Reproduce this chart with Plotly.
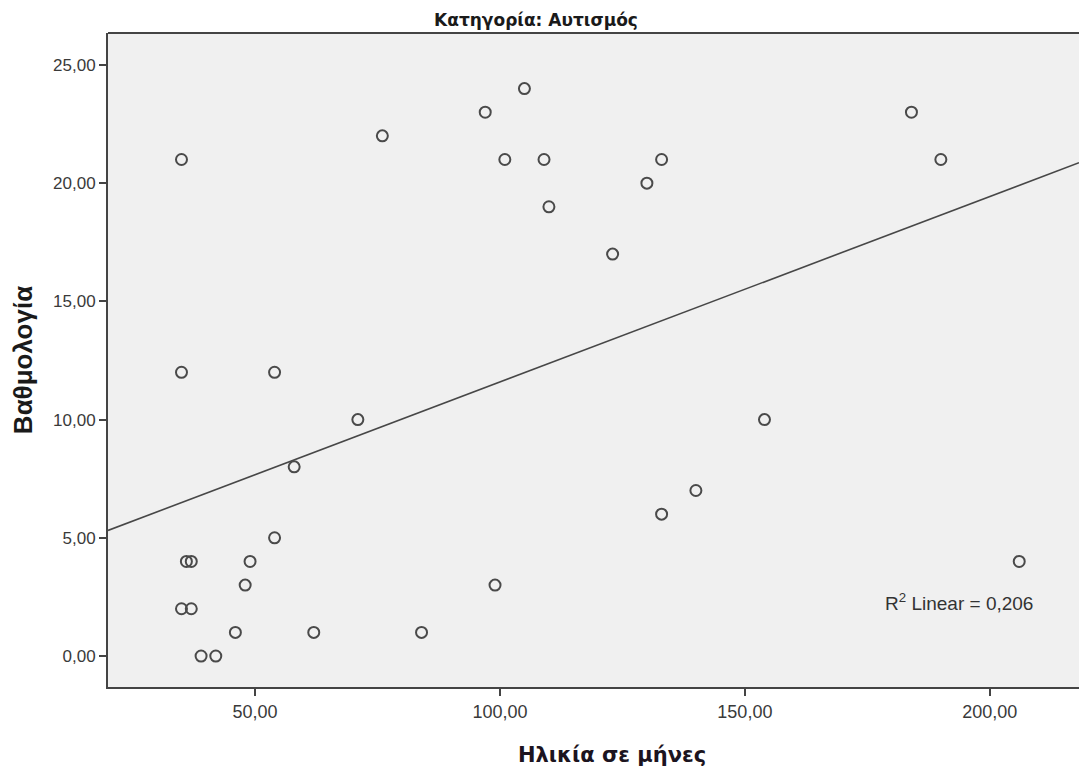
import numpy as np
import plotly.graph_objects as go

# Data
age_months = [35, 35, 36, 37, 35, 37, 39, 42, 46, 48, 49, 54, 54, 58, 62, 71, 76, 84,
              97, 99, 101, 105, 109, 110, 123, 130, 133, 133, 140, 154, 184, 190, 206]
score = [21, 12, 4, 4, 2, 2, 0, 0, 1, 3, 4, 5, 12, 8, 1, 10, 22, 1,
         23, 3, 21, 24, 21, 19, 17, 20, 21, 6, 7, 10, 23, 21, 4]
r2_linear = 0.206

title_text = "Κατηγορία: Αυτισμός"
x_title = "Ηλικία σε μήνες"
y_title = "Βαθμολογία"
x_ticks = [50, 100, 150, 200]
y_ticks = [0, 5, 10, 15, 20, 25]

x_range = [20, 218.2]
y_range = [-1.31, 26.35]

slope, intercept = np.polyfit(age_months, score, 1)
line_x = np.array(x_range)
line_y = slope * line_x + intercept

fig = go.Figure()
fig.add_trace(go.Scatter(
    x=line_x, y=line_y, mode="lines",
    line=dict(color="#474747", width=1.6),
    hoverinfo="skip", showlegend=False,
))
fig.add_trace(go.Scatter(
    x=age_months, y=score, mode="markers",
    marker=dict(symbol="circle-open", size=11, color="#4a4a4a",
                line=dict(width=2, color="#4a4a4a")),
    showlegend=False,
))

fig.update_layout(
    width=1079, height=772,
    margin=dict(l=108, r=0, t=33, b=85),
    paper_bgcolor="white",
    plot_bgcolor="#F0F0F0",
    separators=",.",
    showlegend=False,
    xaxis=dict(
        range=x_range, tickvals=x_ticks, tickformat=".2f",
        showgrid=False, zeroline=False,
        showline=True, linecolor="#444444", linewidth=2,
        ticks="outside", ticklen=7, tickwidth=2, tickcolor="#444444",
        tickfont=dict(family="Liberation Sans, Arial, sans-serif", size=18, color="#3a3a3a"),
    ),
    yaxis=dict(
        range=y_range, tickvals=y_ticks, tickformat=".2f",
        showgrid=False, zeroline=False,
        showline=True, linecolor="#444444", linewidth=2,
        ticks="outside", ticklen=7, tickwidth=2, tickcolor="#444444",
        tickfont=dict(family="Liberation Sans, Arial, sans-serif", size=17, color="#3a3a3a"),
        title=dict(text="<b>" + y_title + "</b>",
                   font=dict(family="Liberation Sans, Arial, sans-serif",
                             size=26, color="#1a1a1a"),
                   standoff=13),
    ),
    title=dict(text="<b>" + title_text + "</b>",
               x=536 / 1079, xanchor="center", xref="container",
               y=1 - 20 / 772, yanchor="middle", yref="container",
               font=dict(family="DejaVu Sans, Liberation Sans, sans-serif",
                         size=17, color="#1a1a1a")),
    shapes=[dict(type="line", xref="paper", yref="paper", x0=0, x1=1, y0=1, y1=1,
                 line=dict(color="#444444", width=2))],
    annotations=[
        dict(
            x=(959 - 108) / 971, y=(687 - 602) / 654, xref="paper", yref="paper",
            text="R<sup>2</sup> Linear = " + f"{r2_linear:.3f}".replace(".", ","),
            showarrow=False, xanchor="center", yanchor="middle",
            font=dict(family="Liberation Sans, Arial, sans-serif", size=19, color="#333333"),
        ),
        dict(
            x=(612 - 108) / 971, y=-(755 - 687) / 654, xref="paper", yref="paper",
            text="<b>" + x_title + "</b>",
            showarrow=False, xanchor="center", yanchor="middle",
            font=dict(family="DejaVu Sans, sans-serif", size=21, color="#1c1420"),
        ),
    ],
)

fig.write_html("out.html")
